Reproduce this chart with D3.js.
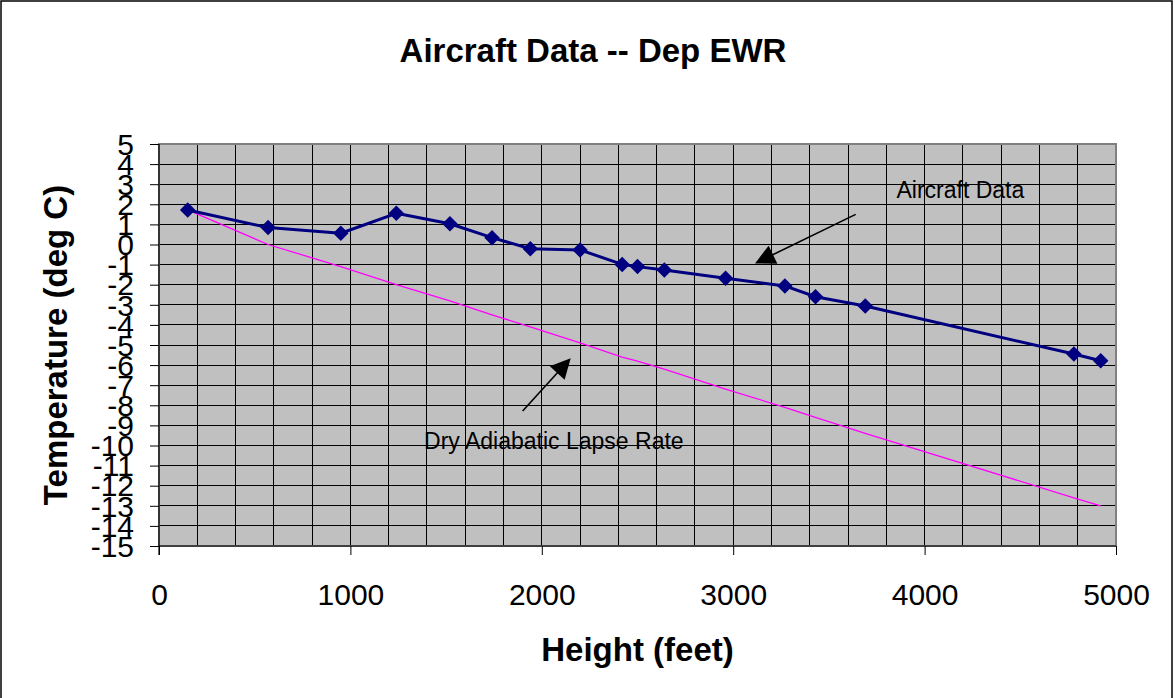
<!DOCTYPE html>
<html>
<head>
<meta charset="utf-8">
<script src="https://cdn.jsdelivr.net/npm/d3@7"></script>
<style>
  html, body { margin: 0; padding: 0; background: #fff; }
  svg { display: block; }
  text { font-family: "Liberation Sans", Arial, Helvetica, sans-serif; fill: #000; }
</style>
</head>
<body>
<svg id="chart" width="1175" height="698"></svg>
<script>
// Climb-out temperature profile after departure from EWR
const heights = [150, 570, 950, 1240, 1520, 1740, 1940, 2200, 2420, 2500, 2640, 2960, 3270, 3430, 3690, 4780, 4920];
const aircraftTemp = [1.72, 0.84, 0.56, 1.55, 1.03, 0.34, -0.21, -0.27, -0.99, -1.10, -1.27, -1.68, -2.06, -2.60, -3.06, -5.45, -5.78];
const dalrTemp = [1.72, 0.0, -1.1, -2.0, -2.8, -3.5, -4.1, -4.9, -5.6, -5.8, -6.2, -7.2, -8.1, -8.6, -9.4, -12.6, -13.0];

const xTickValues = [0, 1000, 2000, 3000, 4000, 5000];
const xGridValues = [0, 200, 400, 600, 800, 1000, 1200, 1400, 1600, 1800, 2000, 2200, 2400, 2600, 2800,
                     3000, 3200, 3400, 3600, 3800, 4000, 4200, 4400, 4600, 4800, 5000];
const yTickValues = [5, 4, 3, 2, 1, 0, -1, -2, -3, -4, -5, -6, -7, -8, -9, -10, -11, -12, -13, -14, -15];

const titleText = "Aircraft Data -- Dep EWR";
const xTitle = "Height (feet)";
const yTitle = "Temperature (deg C)";

// Callouts, placed in data units: label anchor, arrow start, arrow tip
const callouts = [
  { label: "Aircraft Data", lx: 3853, ly: 2.33, x0: 3640, y0: 1.50, x1: 3114, y1: -0.94 },
  { label: "Dry Adiabatic Lapse Rate", lx: 1385, ly: -10.17, x0: 1900, y0: -8.28, x1: 2151, y1: -5.66 }
];

const svg = d3.select("#chart");
const W = 1175, H = 698;
const plot = { left: 159, right: 1116, top: 144, bottom: 546 };

const x = d3.scaleLinear().domain([0, 5000]).range([plot.left, plot.right]);
const y = d3.scaleLinear().domain([-15, 5]).range([plot.bottom, plot.top]);

// outer frame
svg.append("rect")
  .attr("x", 1).attr("y", 1).attr("width", W - 4).attr("height", H + 10)
  .attr("fill", "#fff").attr("stroke", "#000").attr("stroke-width", 1.5);

// title
svg.append("text")
  .attr("x", 593).attr("y", 62)
  .attr("text-anchor", "middle")
  .attr("font-size", 33).attr("font-weight", "bold")
  .text(titleText);

// plot background
svg.append("rect")
  .attr("x", plot.left).attr("y", plot.top)
  .attr("width", plot.right - plot.left).attr("height", plot.bottom - plot.top)
  .attr("fill", "#c0c0c0");

// gridlines
const grid = svg.append("g").attr("shape-rendering", "crispEdges");
grid.selectAll("line.v").data(xGridValues).join("line")
  .attr("class", "v")
  .attr("x1", d => x(d)).attr("x2", d => x(d))
  .attr("y1", plot.top).attr("y2", plot.bottom)
  .attr("stroke", "#000").attr("stroke-width", 1);
grid.selectAll("line.h").data(yTickValues).join("line")
  .attr("class", "h")
  .attr("x1", plot.left).attr("x2", plot.right)
  .attr("y1", d => y(d)).attr("y2", d => y(d))
  .attr("stroke", "#000").attr("stroke-width", 1);

// plot frame
svg.append("rect")
  .attr("x", plot.left).attr("y", plot.top)
  .attr("width", plot.right - plot.left).attr("height", plot.bottom - plot.top)
  .attr("fill", "none").attr("stroke", "#808080").attr("stroke-width", 2);

// series
const pts = heights.map((h, i) => ({ h, a: aircraftTemp[i], d: dalrTemp[i] }));

svg.append("path")
  .datum(pts)
  .attr("fill", "none").attr("stroke", "#ff00ff").attr("stroke-width", 1.3)
  .attr("d", d3.line().x(d => x(d.h)).y(d => y(d.d)));

svg.append("path")
  .datum(pts)
  .attr("fill", "none").attr("stroke", "#000080").attr("stroke-width", 3)
  .attr("stroke-linejoin", "round")
  .attr("d", d3.line().x(d => x(d.h)).y(d => y(d.a)));

const diamond = d3.symbol().type(d3.symbolSquare).size(120);
svg.append("g").selectAll("path").data(pts).join("path")
  .attr("d", diamond)
  .attr("transform", d => `translate(${x(d.h)},${y(d.a)}) rotate(45)`)
  .attr("fill", "#000080");

// axes
const yAxis = d3.axisLeft(y)
  .tickValues(yTickValues)
  .tickFormat(d => String(d))
  .tickSize(9).tickPadding(16);
const gy = svg.append("g").attr("transform", `translate(${plot.left},0)`).call(yAxis);
gy.select(".domain").attr("stroke", "#000").attr("stroke-width", 1.2)
  .attr("d", `M0,${plot.top}V${plot.bottom + 9}`);
gy.selectAll(".tick line").attr("stroke", "#000");
gy.selectAll(".tick text")
  .attr("font-family", "'Liberation Sans', Arial, sans-serif")
  .attr("font-size", 30).attr("fill", "#000").attr("dy", "0.34em");

const xAxis = d3.axisBottom(x)
  .tickValues(xTickValues)
  .tickFormat(d => String(d))
  .tickSize(9).tickPadding(0);
const gx = svg.append("g").attr("transform", `translate(0,${plot.bottom})`).call(xAxis);
gx.select(".domain").attr("stroke", "#000").attr("stroke-width", 1.2)
  .attr("d", `M${plot.left},0H${plot.right}`);
gx.selectAll(".tick line").attr("stroke", "#000");
gx.selectAll(".tick text")
  .attr("font-family", "'Liberation Sans', Arial, sans-serif")
  .attr("font-size", 30).attr("fill", "#000")
  .attr("y", 59).attr("dy", 0);

// axis titles
svg.append("text")
  .attr("x", (plot.left + plot.right) / 2).attr("y", 661)
  .attr("text-anchor", "middle")
  .attr("font-size", 33).attr("font-weight", "bold")
  .text(xTitle);

svg.append("text")
  .attr("transform", `translate(67,${(plot.top + plot.bottom) / 2}) rotate(-90)`)
  .attr("text-anchor", "middle")
  .attr("font-size", 33).attr("font-weight", "bold")
  .text(yTitle);

// callouts with arrowheads
const ann = svg.append("g");
callouts.forEach(c => {
  ann.append("text")
    .attr("x", x(c.lx)).attr("y", y(c.ly))
    .attr("font-size", 23)
    .text(c.label);

  const sx = x(c.x0), sy = y(c.y0), tx = x(c.x1), ty = y(c.y1);
  const dx = tx - sx, dy = ty - sy, len = Math.hypot(dx, dy);
  const ux = dx / len, uy = dy / len;
  const headLen = 20, headHalf = 10;
  const bx = tx - ux * headLen, by = ty - uy * headLen;

  ann.append("line")
    .attr("x1", sx).attr("y1", sy).attr("x2", bx + ux * 2).attr("y2", by + uy * 2)
    .attr("stroke", "#000").attr("stroke-width", 1.6);

  ann.append("path")
    .attr("d", `M${tx},${ty}L${bx - uy * headHalf},${by + ux * headHalf}L${bx + uy * headHalf},${by - ux * headHalf}Z`)
    .attr("fill", "#000");
});
</script>
</body>
</html>
